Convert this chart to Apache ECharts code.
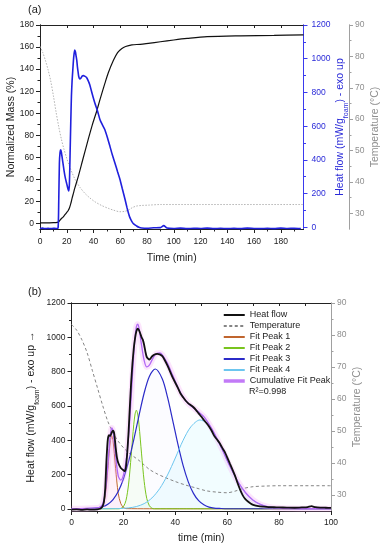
<!DOCTYPE html>
<html><head><meta charset="utf-8">
<script src="https://cdn.jsdelivr.net/npm/echarts@6/dist/echarts.min.js"></script>
<style>html,body{margin:0;padding:0;background:#fff}#c{width:385px;height:550px}</style>
</head><body><div id="c"></div>
<script>
// ---------- Panel (a) data ----------
const massT = [0, 5, 10, 13, 14, 15, 16, 17, 18, 19, 20, 21, 22, 23, 24, 25, 26, 28.7, 32, 36, 39, 42.3, 45, 48.5, 51, 54.9, 58, 61, 64, 68.7, 75, 81, 90, 100, 110, 125, 150, 175, 197];
const massV = [0.5, 0.5, 0.7, 1, 1.5, 3, 4.5, 5.5, 7, 8.5, 10, 11.5, 14, 18, 23, 27.5, 32, 43, 58, 76, 89, 101.6, 113, 127, 136.5, 148, 155, 158.5, 160.5, 162, 162.5, 163.4, 164.8, 166.4, 167.8, 169.4, 170.2, 170.6, 171];

const hfA_T = [0, 2, 4, 6, 8, 10, 12, 13.5, 14, 14.5, 15, 15.5, 16, 17, 18, 19, 20, 21, 21.5, 22, 22.5, 23, 23.5, 24, 24.5, 25, 25.5, 26, 26.5, 27, 27.5, 28, 28.5, 29, 29.7, 30.5, 31.5, 32.5, 33.5, 34.7, 36, 37.2, 39, 41, 43, 44.8, 46.5, 48.5, 50.5, 52.3, 54, 56, 58, 59.8, 61.5, 63.6, 65, 66, 67, 68.5, 70, 72.2, 74, 76, 80, 85, 90, 92.5, 95, 100, 105, 110, 115, 120, 125, 130, 135, 140, 145, 150, 155, 160, 165, 170, 175, 180, 185, 190, 195];
const hfA_V = [-7, -5, -8, -6, -8, -6, -7, -5, 150, 380, 445, 460, 445, 390, 335, 290, 258, 225, 215, 260, 440, 620, 780, 870, 930, 990, 1030, 1052, 1040, 1015, 990, 950, 920, 893, 880, 884, 897, 900, 896, 890, 870, 845, 792, 737, 690, 640, 610, 579, 530, 480, 432, 382, 330, 284, 230, 165, 118, 88, 62, 37, 20, 8, 0, -4, -6, -3, -2, 10, -4, -7, -5, -8, -6, -7, -5, -8, -6, -8, -6, -8, -5, -7, -8, -6, -8, -5, -7, -6, -8];

const tempA_T = [0, 2, 4, 6, 8, 10, 12, 14, 16, 18, 20, 22, 24, 26, 28, 30, 33.5, 37, 41, 46, 51, 55, 59.8, 63, 66, 69, 72, 76, 81, 90, 120, 150, 197];
const tempA_V = [83.2, 81.3, 78.8, 75.8, 72.2, 67.5, 62.3, 57.6, 53.6, 50.3, 47.5, 45, 42.9, 41, 39.5, 38.2, 36.4, 35, 33.7, 32.5, 31.6, 31, 30.5, 30.6, 31, 31.8, 32.3, 32.5, 32.6, 32.8, 32.8, 32.8, 32.8];

// ---------- Panel (b) data ----------
const hfB_T = [0, 2, 4, 6, 8, 10, 11, 11.5, 12, 12.5, 13, 13.5, 14, 14.5, 15, 15.5, 16, 16.5, 17, 17.5, 18, 19, 20, 20.6, 21, 21.5, 22, 22.5, 23, 23.5, 24, 24.5, 25, 25.5, 26, 26.5, 27, 27.5, 28, 28.5, 29, 30, 31, 32, 33, 34, 35, 36, 37, 38, 39, 40, 41, 42, 43, 44, 45, 46, 47, 48, 49, 50, 51, 52, 53, 54, 55, 56, 57, 58, 59, 60, 61, 62, 63, 64, 65, 66, 67, 68, 69, 70, 72, 74, 76, 78, 80, 83, 86, 89, 91, 92.5, 94, 96, 98, 100];
const hfB_V = [-5, -4, -6, -4, -5, -3, 0, 5, 15, 40, 120, 290, 405, 430, 425, 445, 455, 435, 360, 300, 268, 238, 225, 219, 245, 330, 450, 600, 740, 850, 935, 995, 1035, 1050, 1042, 1022, 1000, 985, 955, 915, 885, 870, 888, 900, 903, 900, 890, 865, 835, 800, 765, 735, 705, 672, 650, 630, 615, 604, 592, 575, 556, 538, 518, 500, 480, 455, 425, 405, 385, 358, 333, 300, 265, 230, 193, 150, 110, 78, 56, 42, 31, 23, 15, 12, 10, 9, 8, 7, 6, 8, 10, 15, 9, 7, 6, 5];

const tempB_T = [0, 2, 4, 6, 8, 10, 12, 14, 16, 18, 20, 22, 24, 26, 28, 30, 33, 36, 40, 44, 48, 52, 56, 60, 63, 66, 70, 75, 80, 90, 100];
const tempB_V = [83.3, 81.5, 78.5, 74.5, 69, 63.5, 58, 53, 49.5, 46.8, 44.8, 43.2, 42, 40.8, 39.4, 38, 36.6, 35.5, 34.2, 33.1, 32.2, 31.3, 30.9, 30.7, 31.2, 32, 32.6, 32.8, 32.9, 32.9, 32.9];

const p1T = [0, 10, 11, 12, 13, 14, 14.5, 15, 15.5, 16, 16.5, 17, 18, 19, 20, 21, 30, 100];
const p1V = [0, 0, 2, 15, 77, 229, 323, 397, 425, 397, 323, 235, 90, 30, 8, 1, 0, 0];
const p2T = [0, 18, 19, 20, 21, 22, 23, 23.5, 24, 24.5, 25, 25.5, 26, 27, 28, 29, 30, 31, 32, 100];
const p2V = [0, 0, 2, 12, 49, 144, 310, 407, 493, 553, 575, 553, 493, 320, 160, 60, 18, 3, 0, 0];
const p3T = [0, 8, 10, 12, 14, 16, 18, 20, 22, 24, 26, 28, 30, 32.3, 35, 37, 39, 41, 43, 45, 47, 49, 51, 53, 55, 57, 60, 100];
const p3V = [0, 2, 5, 12, 27, 54, 101, 174, 276, 403, 543, 675, 772, 815, 757, 651, 516, 377, 253, 157, 90, 47, 23, 10, 4, 2, 0, 0];
const p4T = [0, 18, 22, 25, 28, 31, 34, 37, 40, 43, 46, 49.5, 52, 55, 58, 61, 64, 67, 70, 73, 76, 80, 85, 90, 100];
const p4V = [0, 1, 5, 13, 30, 63, 118, 197, 296, 399, 478, 518, 500, 438, 347, 249, 162, 95, 50, 24, 11, 4, 1, 0, 0];
const cumT = [0, 10, 11, 12, 13, 14, 14.5, 15, 15.5, 16, 16.5, 17, 18, 19, 20, 21, 22, 23, 24, 24.5, 25, 25.5, 26, 27, 28, 29, 30, 31, 32, 33, 34, 35, 37, 39, 41, 43, 45, 47, 49, 51, 53, 55, 58, 61, 64, 67, 70, 73, 76, 80, 85, 90, 100];
const cumV = [0, 5, 10, 27, 95, 256, 355, 435, 471, 451, 387, 310, 192, 167, 196, 273, 425, 654, 906, 1002, 1061, 1076, 1053, 954, 865, 827, 838, 867, 893, 907, 909, 898, 848, 778, 709, 652, 614, 588, 564, 537, 494, 442, 348, 249, 162, 95, 50, 24, 11, 4, 1, 0, 0];

// ---------- Tick values ----------
const xLabA = [0, 20, 40, 60, 80, 100, 120, 140, 160, 180];
const xMinA = [10, 30, 50, 70, 90, 110, 130, 150, 170, 190];
const massLab = [0, 20, 40, 60, 80, 100, 120, 140, 160, 180];
const massMin = [10, 30, 50, 70, 90, 110, 130, 150, 170];
const hfLab = [0, 200, 400, 600, 800, 1000, 1200];
const hfMin = [100, 300, 500, 700, 900, 1100];
const tLab = [30, 40, 50, 60, 70, 80, 90];
const tMin = [35, 45, 55, 65, 75, 85];
const xLabB = [0, 20, 40, 60, 80, 100];
const xMinB = [10, 30, 50, 70, 90];
const xTopB = [10, 20, 30, 40, 50, 60, 70, 80, 90];

const FONT = "'Liberation Sans', Arial, sans-serif";
const BLUE = '#2a2ad8', GRAY = '#8e8e8e', BLACK = '#222';
const pairs = (t, v) => t.map((x, i) => [x, v[i]]);

function ax(o) {
  const c = o.color || BLACK;
  const a = {
    type: 'value', gridIndex: o.grid, position: o.pos, min: o.min, max: o.max, offset: o.offset || 0,
    splitLine: { show: false },
    axisLine: { show: true, onZero: false, lineStyle: { color: c, width: 1 } },
    axisTick: { show: true, inside: !!o.inside, length: o.tlen || 4, customValues: o.ticks, lineStyle: { color: c, width: 1 } },
    axisLabel: o.labels ? { show: true, customValues: o.labels, formatter: (v) => String(v), color: o.lcolor || c, fontSize: 8.5, fontFamily: FONT, margin: o.margin || 6 } : { show: false },
    silent: true
  };
  if (o.name) {
    a.name = o.name; a.nameLocation = 'middle'; a.nameGap = o.nameGap; a.nameMoveOverlap = false;
    if (o.rot !== undefined) a.nameRotate = o.rot;
    a.nameTextStyle = Object.assign({ color: o.lcolor || c, fontSize: 10.5, fontFamily: FONT }, o.nts || {});
  }
  return a;
}

const subRich = (col) => ({
  n: { color: col, fontSize: 10.5, fontFamily: FONT, lineHeight: 13 },
  s: { color: col, fontSize: 7, fontFamily: FONT, lineHeight: 13, verticalAlign: 'bottom', padding: [0, 0, -3, 0] }
});

const xAxis = [
  ax({ grid: 0, pos: 'bottom', min: 0, max: 197, labels: xLabA, ticks: xLabA, tlen: 4, margin: 8, name: 'Time (min)', nameGap: 24 }),
  ax({ grid: 0, pos: 'top', min: 0, max: 197, ticks: xLabA, tlen: 3, inside: true }),
  ax({ grid: 0, pos: 'bottom', min: 0, max: 197, ticks: xMinA, tlen: 2.5 }),
  ax({ grid: 1, pos: 'bottom', min: 0, max: 100, labels: xLabB, ticks: xLabB, tlen: 4, margin: 7, name: 'time (min)', nameGap: 22 }),
  ax({ grid: 1, pos: 'top', min: 0, max: 100, ticks: xTopB, tlen: 3, inside: true }),
  ax({ grid: 1, pos: 'bottom', min: 0, max: 100, ticks: xMinB, tlen: 2.5 })
];

const yAxis = [
  ax({ grid: 0, pos: 'left', min: -5, max: 180, labels: massLab, ticks: massLab, tlen: 4, margin: 6, name: 'Normalized Mass (%)', nameGap: 23, rot: 90 }),
  ax({ grid: 0, pos: 'left', min: -5, max: 180, ticks: massMin, tlen: 2.5 }),
  ax({ grid: 0, pos: 'right', min: -10, max: 1200, color: '#3a3aee', lcolor: BLUE, labels: hfLab, ticks: hfLab, tlen: 4, margin: 8,
       name: '{n|Heat flow (mW/g}{s|foam}{n|) - exo up}', nameGap: 30, rot: 90, nts: { rich: subRich(BLUE) } }),
  ax({ grid: 0, pos: 'right', min: -10, max: 1200, color: '#3a3aee', ticks: hfMin, tlen: 2.5 }),
  ax({ grid: 0, pos: 'right', offset: 45.5, min: 25, max: 90, color: '#a0a0a0', lcolor: GRAY, labels: tLab, ticks: tLab, tlen: 4, margin: 6,
       name: 'Temperature (°C)', nameGap: 21, rot: 90 }),
  ax({ grid: 0, pos: 'right', offset: 45.5, min: 25, max: 90, color: '#a0a0a0', ticks: tMin, tlen: 2.5 }),
  ax({ grid: 1, pos: 'left', min: -13, max: 1200, labels: hfLab, ticks: hfLab, tlen: 4, margin: 6,
       name: '{n|Heat flow (mW/g}{s|foam}{n|) - exo up →}', nameGap: 34, rot: 90, nts: { rich: subRich(BLACK) } }),
  ax({ grid: 1, pos: 'left', min: -13, max: 1200, ticks: hfMin, tlen: 2.5 }),
  ax({ grid: 1, pos: 'right', min: 25, max: 90, color: '#a0a0a0', lcolor: GRAY, labels: tLab, ticks: tLab, tlen: 4, margin: 6,
       name: 'Temperature (°C)', nameGap: 21, rot: 90 }),
  ax({ grid: 1, pos: 'right', min: 25, max: 90, color: '#a0a0a0', ticks: tMin, tlen: 2.5 })
];

const line = (name, xi, yi, data, color, width, extra) => Object.assign({
  name, type: 'line', xAxisIndex: xi, yAxisIndex: yi, data, symbol: 'none', showSymbol: false,
  smooth: 0.3, lineStyle: { color, width }, itemStyle: { color }, silent: true, z: 2
}, extra || {});

const series = [
  line('T_a', 0, 4, pairs(tempA_T, tempA_V), '#b4b4b4', 1, { lineStyle: { color: '#b4b4b4', width: 1, type: [1.5, 1.5] } }),
  line('Mass', 0, 0, pairs(massT, massV), '#111', 1.2),
  line('HF_a', 0, 2, pairs(hfA_T, hfA_V), '#2020dd', 1.6, { smooth: 0.2 }),

  line('Temperature', 3, 8, pairs(tempB_T, tempB_V), '#858585', 1, { lineStyle: { color: '#858585', width: 1, type: [3, 2.5] } }),
  line('Fit Peak 1', 3, 6, pairs(p1T, p1V), '#c0652e', 1, { areaStyle: { color: 'rgba(255,170,225,0.22)' } }),
  line('Fit Peak 2', 3, 6, pairs(p2T, p2V), '#79c41e', 1, { areaStyle: { color: 'rgba(210,255,190,0.2)' } }),
  line('Fit Peak 3', 3, 6, pairs(p3T, p3V), '#2b2bc8', 1.2, { areaStyle: { color: 'rgba(215,215,255,0.12)' } }),
  line('Fit Peak 4', 3, 6, pairs(p4T, p4V), '#6cc6ef', 1, { areaStyle: { color: 'rgba(180,245,255,0.25)' } }),
  line('halo', 3, 6, pairs(cumT, cumV), 'rgba(245,160,245,0.28)', 6),
  line('Cumulative Fit Peak', 3, 6, pairs(cumT, cumV), '#b168f5', 1.3),
  line('Heat flow', 3, 6, pairs(hfB_T, hfB_V), '#111', 1.8, { smooth: 0.2, z: 3 })
];

const chart = echarts.init(document.getElementById('c'), null, { renderer: 'canvas' });
chart.setOption({
  animation: false,
  backgroundColor: '#fff',
  textStyle: { fontFamily: FONT },
  grid: [
    { left: 40, top: 25, width: 263.5, height: 204, containLabel: false, outerBoundsMode: 'none' },
    { left: 71.5, top: 303, width: 259.5, height: 208, containLabel: false, outerBoundsMode: 'none' }
  ],
  xAxis, yAxis, series,
  legend: {
    data: ['Heat flow', 'Temperature', 'Fit Peak 1', 'Fit Peak 2', 'Fit Peak 3', 'Fit Peak 4',
      { name: 'Cumulative Fit Peak', lineStyle: { width: 3.5, color: '#c27af7' } }],
    orient: 'vertical', left: 222, top: 309.5, padding: 0, itemWidth: 21, itemHeight: 8, itemGap: 0,
    itemStyle: { opacity: 0 },
    selectedMode: false, textStyle: { fontSize: 9, lineHeight: 11, color: '#222', fontFamily: FONT }
  },
  graphic: [
    { type: 'text', left: 28, top: 4, style: { text: '(a)', fontSize: 11, fill: '#222', fontFamily: FONT } },
    { type: 'text', left: 28, top: 286, style: { text: '(b)', fontSize: 11, fill: '#222', fontFamily: FONT } },
    { type: 'text', left: 249, top: 387, style: { text: 'R²=0.998', fontSize: 9, fill: '#222', fontFamily: FONT } }
  ]
});
</script></body></html>
